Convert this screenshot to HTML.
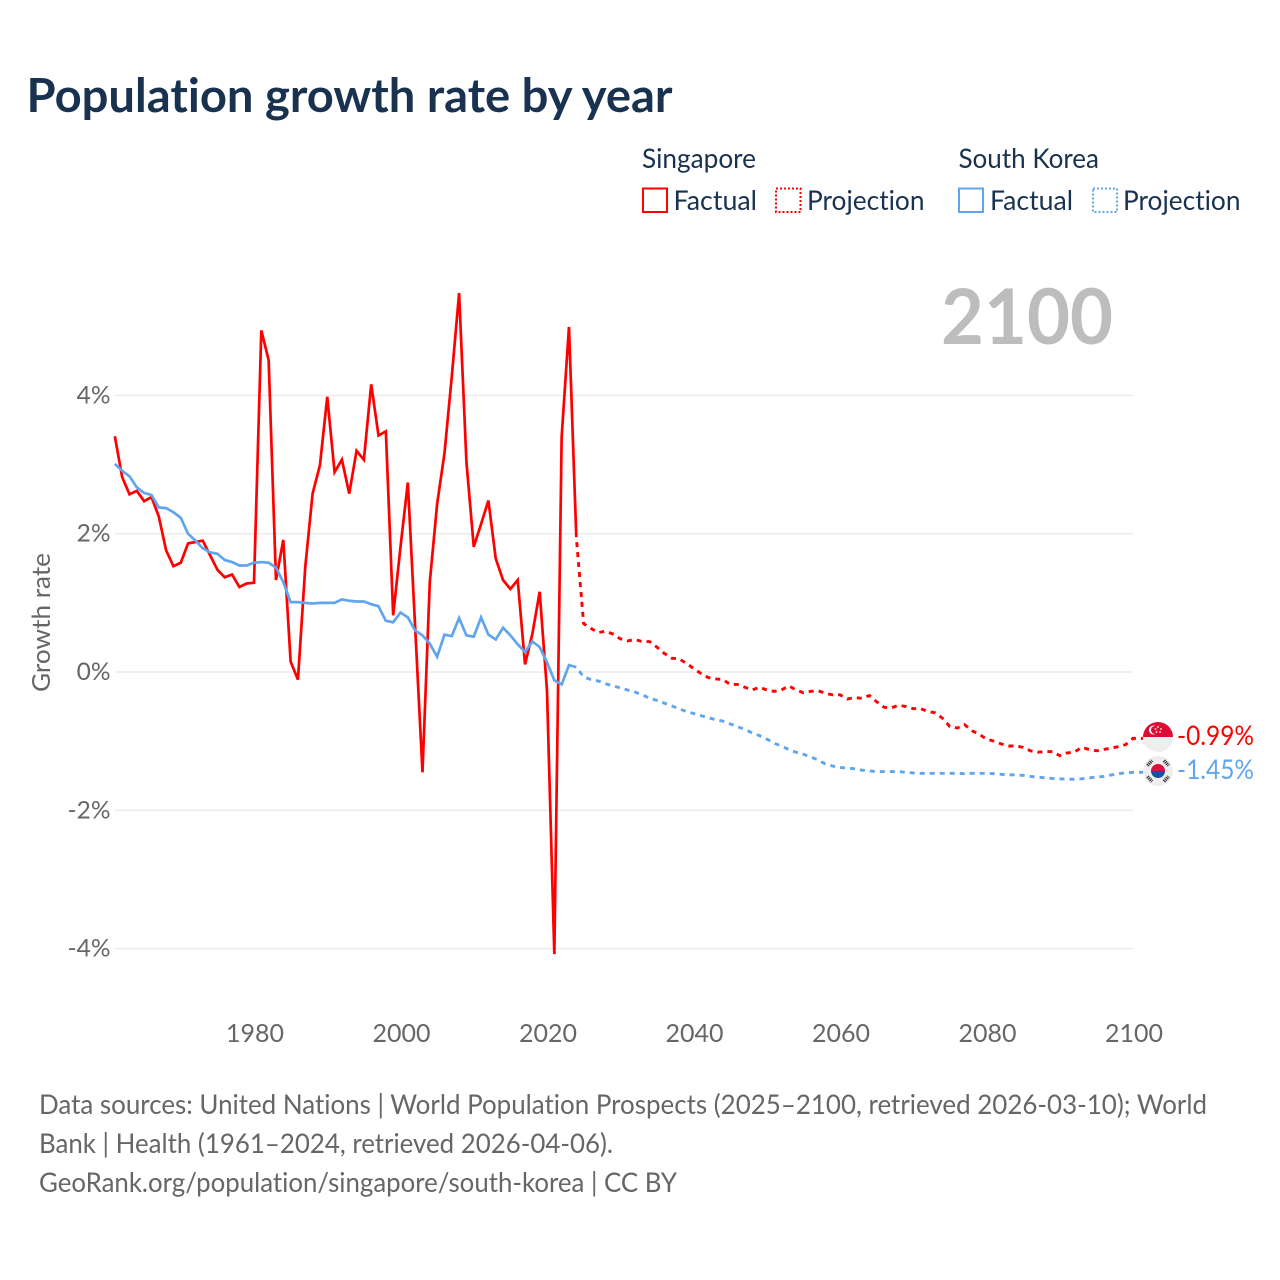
<!DOCTYPE html>
<html lang="en">
<head>
<meta charset="utf-8">
<title>Population growth rate by year</title>
<style>
html,body{margin:0;padding:0;background:#fff;width:1280px;height:1280px;overflow:hidden}
svg{display:block}
text{font-family:"Lato","Carlito","Liberation Sans",sans-serif;font-variant-ligatures:none;font-feature-settings:"liga" 0,"clig" 0}
</style>
</head>
<body>
<svg id="chart" xmlns="http://www.w3.org/2000/svg" width="1280" height="1280" viewBox="0 0 1280 1280">
<defs>
<clipPath id="flag-clip-sg"><circle cx="1158" cy="737" r="15"/></clipPath>
<clipPath id="flag-clip-kr"><circle cx="1158" cy="771" r="15"/></clipPath>
</defs>
<rect width="1280" height="1280" fill="#fff"/>
<text x="26.500" y="112" font-size="47" font-weight="700" fill="#19324f" textLength="646" lengthAdjust="spacingAndGlyphs">Population growth rate by year</text>

<g font-size="27.500" fill="#19324f">
<text x="642" y="168" textLength="114" lengthAdjust="spacingAndGlyphs">Singapore</text>
<rect x="643" y="188.500" width="24" height="23.500" fill="none" stroke="#ff0000" stroke-width="2"/>
<text x="673.500" y="210" textLength="83.500" lengthAdjust="spacingAndGlyphs">Factual</text>
<rect x="776" y="188.500" width="24.500" height="23.500" fill="none" stroke="#ff0000" stroke-width="2" stroke-dasharray="2 2"/>
<text x="807" y="210" textLength="117.500" lengthAdjust="spacingAndGlyphs">Projection</text>
<text x="958.500" y="168" textLength="140.500" lengthAdjust="spacingAndGlyphs">South Korea</text>
<rect x="959" y="188.500" width="24" height="23.500" fill="none" stroke="#60a5ee" stroke-width="2"/>
<text x="990" y="210" textLength="83" lengthAdjust="spacingAndGlyphs">Factual</text>
<rect x="1093" y="188.500" width="24" height="23.500" fill="none" stroke="#60a5ee" stroke-width="2" stroke-dasharray="2 2"/>
<text x="1123" y="210" textLength="117.500" lengthAdjust="spacingAndGlyphs">Projection</text>
</g>

<g id="grid"></g>
<g id="yticks"></g>
<g id="xticks"></g>
<text x="941" y="344" font-size="77" font-weight="700" fill="#bdbdbd" textLength="172" lengthAdjust="spacingAndGlyphs">2100</text>
<text transform="translate(50,692) rotate(-90)" font-size="25.500" fill="#666" textLength="139" lengthAdjust="spacingAndGlyphs">Growth rate</text>
<g id="series"></g>

<g clip-path="url(#flag-clip-sg)">
<rect x="1143" y="722" width="30" height="15" fill="#df0a33"/>
<rect x="1143" y="737" width="30" height="15" fill="#eeeeee"/>
<circle cx="1153.500" cy="730" r="4.500" fill="#fff"/>
<circle cx="1155" cy="730" r="4" fill="#df0a33"/>
<circle cx="1158" cy="727" r="0.900" fill="#fff"/>
<circle cx="1161" cy="729" r="0.900" fill="#fff"/>
<circle cx="1160" cy="732" r="0.900" fill="#fff"/>
<circle cx="1156.500" cy="732" r="0.900" fill="#fff"/>
<circle cx="1155.500" cy="729" r="0.900" fill="#fff"/>
</g>
<g clip-path="url(#flag-clip-kr)">
<rect x="1143" y="756" width="30" height="30" fill="#eeeeee"/>
<path d="M1151 771a7 7 0 0 1 14 0z" fill="#d8143a"/>
<path d="M1151 771a7 7 0 0 0 14 0z" fill="#1a4fa3"/>
<g stroke="#333" stroke-width="3.500" stroke-dasharray="1.200 0.800">
<path d="M1147.500 765.500l4.500-5"/>
<path d="M1164 760.500l4.500 5"/>
<path d="M1147.500 776.500l4.500 5"/>
<path d="M1164 781.500l4.500-5"/>
</g>
</g>

<text id="label-sg" x="1177" y="745" font-size="27.500" fill="#ff0000" textLength="77" lengthAdjust="spacingAndGlyphs">-0.99%</text>
<text id="label-kr" x="1177" y="779" font-size="27.500" fill="#60a5ee" textLength="77" lengthAdjust="spacingAndGlyphs">-1.45%</text>

<g font-size="27.500" fill="#666">
<text x="39" y="1114" textLength="1168" lengthAdjust="spacingAndGlyphs">Data sources: United Nations | World Population Prospects (2025–2100, retrieved 2026-03-10); World</text>
<text x="39" y="1153" textLength="574" lengthAdjust="spacingAndGlyphs">Bank | Health (1961–2024, retrieved 2026-04-06).</text>
<text x="39" y="1192" textLength="638" lengthAdjust="spacingAndGlyphs">GeoRank.org/population/singapore/south-korea | CC BY</text>
</g>
</svg>
<script>
const yTickValues = [4, 2, 0, -2, -4];
const yTickLabels = ["4%", "2%", "0%", "-2%", "-4%"];
const xTickValues = [1980, 2000, 2020, 2040, 2060, 2080, 2100];
const xTickLabels = ["1980", "2000", "2020", "2040", "2060", "2080", "2100"];
const factualStartYear = 1961;
const projectionStartYear = 2024;
const singaporeFactual = [3.41,2.82,2.57,2.62,2.47,2.53,2.25,1.76,1.53,1.58,1.86,1.88,1.90,1.69,1.48,1.37,1.41,1.23,1.28,1.29,4.94,4.51,1.33,1.91,0.15,-0.11,1.52,2.58,2.99,3.98,2.89,3.07,2.58,3.20,3.07,4.16,3.42,3.48,0.82,1.81,2.74,0.65,-1.45,1.30,2.43,3.16,4.27,5.48,3.04,1.81,2.14,2.48,1.64,1.33,1.20,1.33,0.11,0.55,1.16,-0.27,-4.08,3.40,4.99,1.95];
const southKoreaFactual = [3.01,2.91,2.83,2.67,2.59,2.56,2.38,2.37,2.31,2.23,2.00,1.90,1.79,1.73,1.71,1.62,1.59,1.54,1.54,1.58,1.59,1.58,1.51,1.30,1.01,1.01,1.00,0.99,1.00,1.00,1.00,1.05,1.03,1.02,1.02,0.98,0.95,0.74,0.72,0.86,0.79,0.60,0.53,0.41,0.22,0.54,0.52,0.78,0.53,0.51,0.79,0.54,0.47,0.64,0.53,0.40,0.29,0.44,0.36,0.14,-0.12,-0.18,0.10,0.07];
const singaporeProjection = [1.95,0.70,0.63,0.57,0.59,0.55,0.48,0.45,0.47,0.44,0.44,0.36,0.27,0.20,0.19,0.13,0.05,-0.02,-0.08,-0.10,-0.11,-0.18,-0.18,-0.22,-0.26,-0.22,-0.26,-0.28,-0.26,-0.20,-0.26,-0.30,-0.28,-0.27,-0.31,-0.33,-0.33,-0.39,-0.37,-0.38,-0.34,-0.43,-0.51,-0.52,-0.48,-0.50,-0.53,-0.53,-0.57,-0.59,-0.67,-0.79,-0.81,-0.76,-0.85,-0.90,-0.97,-1.00,-1.04,-1.07,-1.07,-1.09,-1.14,-1.16,-1.15,-1.15,-1.21,-1.17,-1.16,-1.09,-1.12,-1.14,-1.12,-1.10,-1.08,-1.05,-0.96];
const southKoreaProjection = [0.07,-0.07,-0.11,-0.13,-0.17,-0.20,-0.23,-0.26,-0.29,-0.33,-0.38,-0.41,-0.45,-0.49,-0.53,-0.57,-0.60,-0.63,-0.66,-0.69,-0.71,-0.75,-0.79,-0.83,-0.88,-0.92,-0.97,-1.03,-1.07,-1.12,-1.16,-1.19,-1.23,-1.27,-1.33,-1.36,-1.38,-1.39,-1.40,-1.42,-1.43,-1.44,-1.44,-1.44,-1.44,-1.45,-1.46,-1.465,-1.465,-1.465,-1.465,-1.465,-1.465,-1.47,-1.465,-1.465,-1.465,-1.47,-1.48,-1.485,-1.49,-1.495,-1.51,-1.52,-1.53,-1.54,-1.545,-1.55,-1.55,-1.545,-1.53,-1.52,-1.51,-1.49,-1.47,-1.46,-1.45];

const NS = 'http://www.w3.org/2000/svg';
function xScale(year) { return 254 + (year - 1980) * 7.325; }
function yScale(value) { return 672 - value * 69.15; }
function linePath(values, startYear, flagEnd) {
  let d = '';
  values.forEach(function (v, i) {
    d += (i ? 'L' : 'M') + xScale(startYear + i).toFixed(2) + ' ' + yScale(v).toFixed(2);
  });
  if (flagEnd) {
    d += 'L' + (xScale(startYear + values.length - 1) + 10).toFixed(2) + ' ' + yScale(values[values.length - 1]).toFixed(2);
  }
  return d;
}

const gridGroup = document.getElementById('grid');
const yTickGroup = document.getElementById('yticks');
yTickValues.forEach(function (v, i) {
  const line = document.createElementNS(NS, 'line');
  
  
  line.setAttribute('x1', 115);
  line.setAttribute('x2', 1133);
  line.setAttribute('y1', yScale(v));
  line.setAttribute('y2', yScale(v));
  line.setAttribute('stroke', '#ececec');
  line.setAttribute('stroke-width', 1.5);
  gridGroup.appendChild(line);
  const label = document.createElementNS(NS, 'text');
  
  
  label.setAttribute('x', 110.5);
  label.setAttribute('y', yScale(v) + 8);
  label.setAttribute('text-anchor', 'end');
  label.setAttribute('font-size', 24.5);
  label.setAttribute('fill', '#666');
  label.textContent = yTickLabels[i];
  yTickGroup.appendChild(label);
});

const xTickGroup = document.getElementById('xticks');
xTickValues.forEach(function (v, i) {
  const label = document.createElementNS(NS, 'text');
  
  
  label.setAttribute('x', xScale(v) + 1);
  label.setAttribute('y', 1042);
  label.setAttribute('text-anchor', 'middle');
  label.setAttribute('font-size', 25);
  label.setAttribute('fill', '#666');
  label.textContent = xTickLabels[i];
  xTickGroup.appendChild(label);
});

const seriesGroup = document.getElementById('series');

const singaporeFactualLine = document.createElementNS(NS, 'path');


singaporeFactualLine.setAttribute('d', linePath(singaporeFactual, factualStartYear, false));
singaporeFactualLine.setAttribute('fill', 'none');
singaporeFactualLine.setAttribute('stroke', '#ff0000');
singaporeFactualLine.setAttribute('stroke-width', 2.7);
seriesGroup.appendChild(singaporeFactualLine);

const singaporeProjectionLine = document.createElementNS(NS, 'path');


singaporeProjectionLine.setAttribute('d', linePath(singaporeProjection, projectionStartYear, true));
singaporeProjectionLine.setAttribute('fill', 'none');
singaporeProjectionLine.setAttribute('stroke', '#ff0000');
singaporeProjectionLine.setAttribute('stroke-width', 2.9);
singaporeProjectionLine.setAttribute('stroke-dasharray', '5 5');
singaporeProjectionLine.setAttribute('stroke-dashoffset', '5');
seriesGroup.appendChild(singaporeProjectionLine);

const southKoreaFactualLine = document.createElementNS(NS, 'path');


southKoreaFactualLine.setAttribute('d', linePath(southKoreaFactual, factualStartYear, false));
southKoreaFactualLine.setAttribute('fill', 'none');
southKoreaFactualLine.setAttribute('stroke', '#60a5ee');
southKoreaFactualLine.setAttribute('stroke-width', 2.7);
seriesGroup.appendChild(southKoreaFactualLine);

const southKoreaProjectionLine = document.createElementNS(NS, 'path');


southKoreaProjectionLine.setAttribute('d', linePath(southKoreaProjection, projectionStartYear, true));
southKoreaProjectionLine.setAttribute('fill', 'none');
southKoreaProjectionLine.setAttribute('stroke', '#60a5ee');
southKoreaProjectionLine.setAttribute('stroke-width', 2.9);
southKoreaProjectionLine.setAttribute('stroke-dasharray', '5 5');
southKoreaProjectionLine.setAttribute('stroke-dashoffset', '5');
seriesGroup.appendChild(southKoreaProjectionLine);
</script>
</body>
</html>
